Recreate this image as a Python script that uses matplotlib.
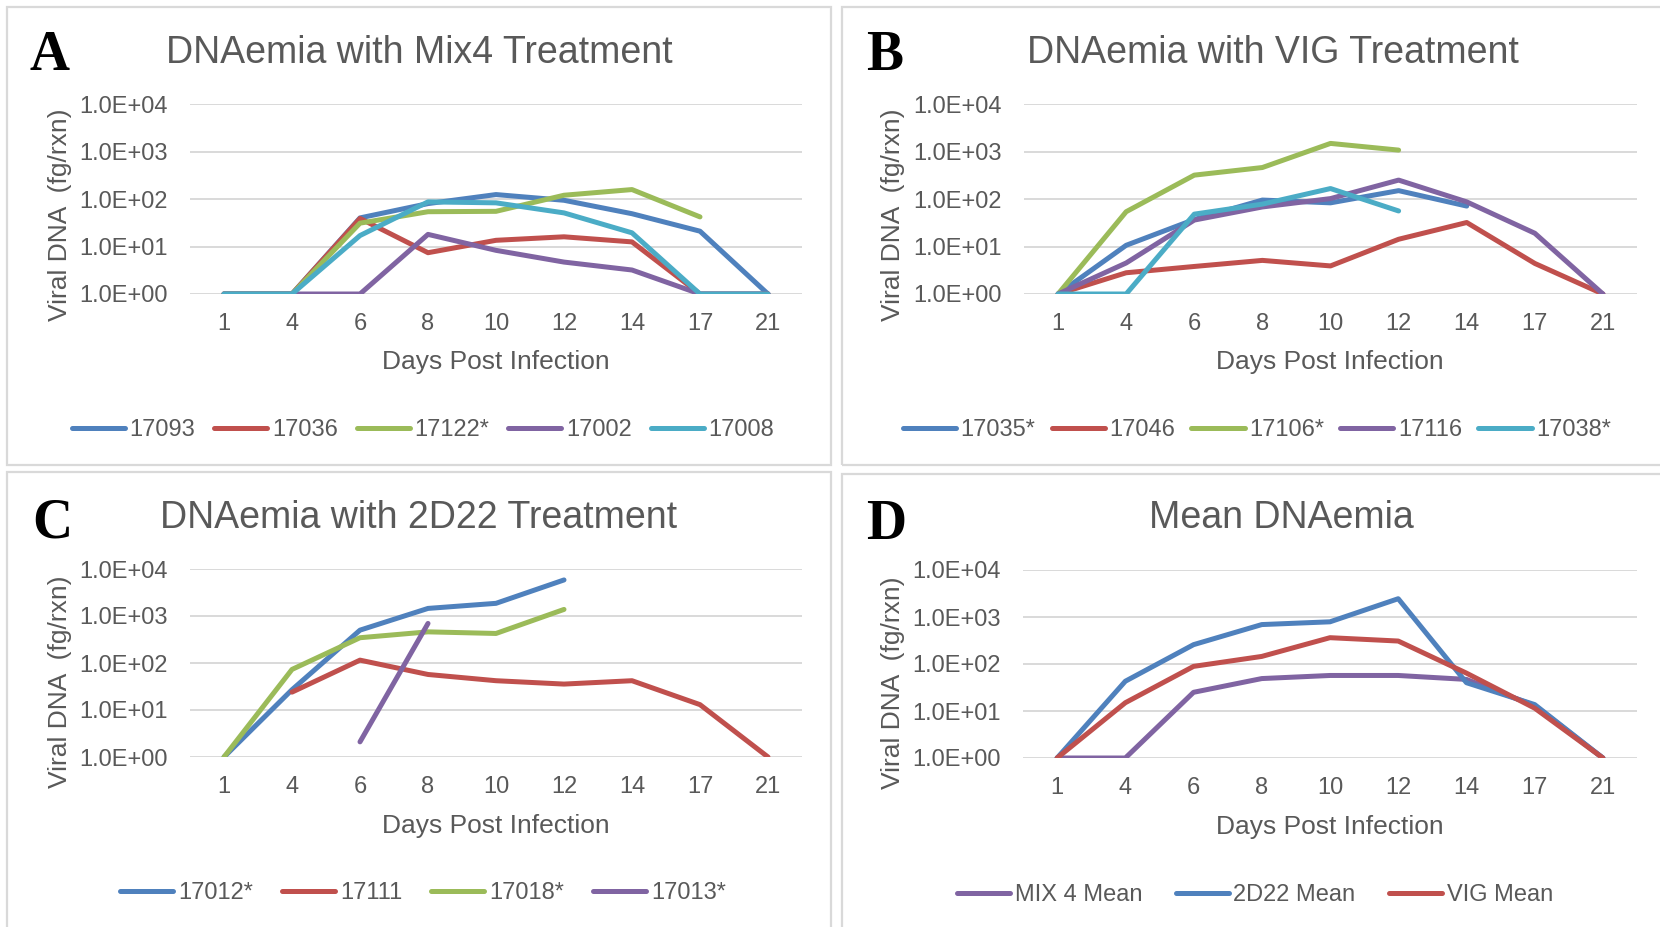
import numpy as np
import matplotlib.pyplot as plt
from matplotlib.patches import Rectangle

plt.rcParams['font.family'] = ['Liberation Sans', 'DejaVu Sans']

nan = np.nan
days = ["1", "4", "6", "8", "10", "12", "14", "17", "21"]

# Mix4 treated animals
mix4_names = ["17093", "17036", "17122*", "17002", "17008"]
mix4_17093 = [1, 1, 40, 80, 124, 94, 49, 21, 1]
mix4_17036 = [1, 1, 39, 7.4, 13.5, 16, 12.5, 1, 1]
mix4_17122 = [1, 1, 31, 54, 55, 120, 158, 42, nan]
mix4_17002 = [1, 1, 1, 18, 8.3, 4.7, 3.2, 1, 1]
mix4_17008 = [1, 1, 17, 87, 83, 51, 19.4, 1, 1]

# VIG treated animals
vig_names = ["17035*", "17046", "17106*", "17116", "17038*"]
vig_17035 = [1, 10.6, 37, 95, 83, 150, 71, nan, nan]
vig_17046 = [1, 2.8, 3.8, 5.1, 3.9, 14.2, 32, 4.4, 1]
vig_17106 = [1, 54, 318, 460, 1480, 1070, nan, nan, nan]
vig_17116 = [1, 4.5, 36, 68, 102, 250, 87, 19, 1]
vig_17038 = [1, 1, 48, 78, 166, 56, nan, nan, nan]

# 2D22 treated animals
d22_names = ["17012*", "17111", "17018*", "17013*"]
d22_17012 = [1, 27, 500, 1450, 1860, 5850, nan, nan, nan]
d22_17111 = [nan, 24, 115, 57, 42, 35.6, 42, 13, 1]
d22_17018 = [1, 73, 345, 460, 425, 1380, nan, nan, nan]
d22_17013 = [nan, nan, 2.1, 695, nan, nan, nan, nan, nan]

# group means
mean_names = ["MIX 4 Mean", "2D22 Mean", "VIG Mean"]
mean_mix4 = [1, 1, 25, 49, 57, 57, 47, 13, 1]
mean_2d22 = [1, 43, 258, 690, 790, 2450, 40, 13.7, 1]
mean_vig = [1, 15, 89, 145, 363, 308, 64, 11.5, 1]

BLUE, RED, GREEN, PURPLE, CYAN = "#4F81BD", "#C0504D", "#9BBB59", "#8064A2", "#4BACC6"
TXT = "#595959"
W, H = 1660, 927


def fx(x):
    return x / W


def fy(y):
    return 1 - y / H


panels = [
    dict(letter="A", title="DNAemia with Mix4 Treatment", names=mix4_names,
         series=[mix4_17093, mix4_17036, mix4_17122, mix4_17002, mix4_17008],
         colors=[BLUE, RED, GREEN, PURPLE, CYAN],
         box=(7, 7, 824, 458), plot=(190, 802, 104, 294),
         letter_xy=(29, 70), title_xy=(419, 63), ylab_xy=(60, 215),
         xlab_xy=(496, 362), leg_xy=(423, 430), colspace=0.8),
    dict(letter="B", title="DNAemia with VIG Treatment", names=vig_names,
         series=[vig_17035, vig_17046, vig_17106, vig_17116, vig_17038],
         colors=[BLUE, RED, GREEN, PURPLE, CYAN],
         box=(842, 7, 860, 458), plot=(1024, 1637, 104, 294),
         letter_xy=(866, 70), title_xy=(1273, 63), ylab_xy=(893, 215),
         xlab_xy=(1330, 362), leg_xy=(1257, 430), colspace=0.68),
    dict(letter="C", title="DNAemia with 2D22 Treatment", names=d22_names,
         series=[d22_17012, d22_17111, d22_17018, d22_17013],
         colors=[BLUE, RED, GREEN, PURPLE],
         box=(7, 472, 824, 470), plot=(190, 802, 569, 757),
         letter_xy=(32, 538), title_xy=(419, 528), ylab_xy=(60, 682),
         xlab_xy=(496, 826), leg_xy=(423, 893), colspace=1.23),
    dict(letter="D", title="Mean DNAemia", names=mean_names,
         series=[mean_mix4, mean_2d22, mean_vig],
         colors=[PURPLE, BLUE, RED],
         box=(842, 474, 860, 470), plot=(1023, 1637, 570, 758),
         letter_xy=(866, 539), title_xy=(1281, 528), ylab_xy=(893, 683),
         xlab_xy=(1330, 827), leg_xy=(1255, 895), colspace=1.4),
]

fig = plt.figure(figsize=(W / 100, H / 100), dpi=100)
fig.patch.set_facecolor("white")

x = np.arange(len(days))
for p in panels:
    bx, by, bw, bh = p["box"]
    fig.add_artist(Rectangle((fx(bx), fy(by + bh)), bw / W, bh / H,
                             transform=fig.transFigure, fill=False,
                             edgecolor="#D9D9D9", linewidth=1.6))

    left, right, top, bottom = p["plot"]
    ax = fig.add_axes([fx(left), fy(bottom), (right - left) / W, (bottom - top) / H])
    lines = []
    for vals, name, col in zip(p["series"], p["names"], p["colors"]):
        ln, = ax.plot(x, np.array(vals, dtype=float), color=col, lw=3.6,
                      solid_capstyle="round", solid_joinstyle="round", label=name)
        lines.append(ln)

    ax.set_yscale("log")
    ax.set_ylim(1, 1e4)
    ax.set_xlim(-0.5, len(days) - 0.5)
    ax.set_yticks([1, 10, 100, 1000, 10000])
    ax.set_yticklabels(["1.0E+00", "1.0E+01", "1.0E+02", "1.0E+03", "1.0E+04"])
    ax.minorticks_off()
    ax.set_xticks(x)
    ax.set_xticklabels(days)
    ax.tick_params(axis="both", length=0, labelsize=17, labelcolor=TXT)
    ax.tick_params(axis="x", pad=14)
    ax.tick_params(axis="y", pad=16)
    ax.grid(axis="y", color="#D9D9D9", lw=1.4)
    ax.set_axisbelow(True)
    for s in ax.spines.values():
        s.set_visible(False)

    ax.legend(handles=lines, loc="center", ncol=len(lines), frameon=False,
              bbox_to_anchor=(fx(p["leg_xy"][0]), fy(p["leg_xy"][1])),
              bbox_transform=fig.transFigure, fontsize=17, labelcolor=TXT,
              handlelength=2.25, handletextpad=0.2, columnspacing=p["colspace"])

    fig.text(fx(p["title_xy"][0]), fy(p["title_xy"][1]), p["title"], ha="center",
             va="baseline", fontsize=27, color=TXT)
    fig.text(fx(p["letter_xy"][0]), fy(p["letter_xy"][1]), p["letter"], ha="left",
             va="baseline", fontsize=40, fontweight="bold", color="black",
             family=["Liberation Serif", "DejaVu Serif"])
    fig.text(fx(p["ylab_xy"][0]), fy(p["ylab_xy"][1]), "Viral DNA  (fg/rxn)",
             rotation=90, ha="center", va="center", fontsize=19, color=TXT)
    fig.text(fx(p["xlab_xy"][0]), fy(p["xlab_xy"][1]), "Days Post Infection",
             ha="center", va="center", fontsize=19, color=TXT)

fig.savefig("out.png", dpi=100, facecolor="white")
